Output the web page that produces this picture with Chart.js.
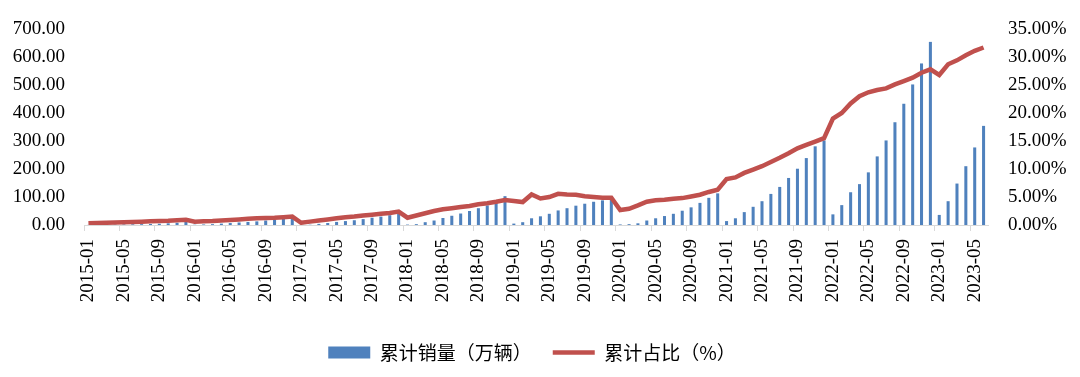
<!DOCTYPE html>
<html>
<head>
<meta charset="utf-8">
<script src="https://cdn.jsdelivr.net/npm/chart.js@4"></script>
<style>
  html, body { margin: 0; padding: 0; background: #fff; }
  #wrap { width: 1080px; height: 377px; position: relative; }
</style>
</head>
<body>
<div id="wrap"><canvas id="c"></canvas></div>
<script>
// months 2015-01 .. 2023-06
var years = [2015, 2016, 2017, 2018, 2019, 2020, 2021, 2022, 2023];
var months = [];
years.forEach(function (y) {
    for (var m = 1; m <= 12; m++) {
        if (y === 2023 && m > 6) break;
        months.push(y + '-' + (m < 10 ? '0' + m : m));
    }
});

// 累计销量（万辆）
var salesValues = [
    0.3, 0.6, 1, 1.5, 2, 2.5, 3, 3.5, 4.5, 6, 8, 11,
    1, 2, 3, 5, 7, 9, 11, 13, 16, 19, 22, 27,
    0.5, 1, 4, 7, 11, 14, 17, 21, 26, 30, 35, 40,
    1.5, 3, 10, 16, 25, 33, 41, 50, 60, 70, 79, 103,
    5, 10, 24, 31, 40, 52, 60, 69, 76, 83, 88, 97,
    2, 3, 6, 16, 24, 32, 40, 51, 63, 79, 97, 113,
    14, 24, 46, 65, 85, 111, 136, 168, 201, 239, 281, 302,
    38, 71, 117, 146, 188, 245, 302, 367, 433, 502, 577, 654,
    36, 85, 148, 210, 277, 354
];

// 累计占比（%）
var shareValues = [
    0.3, 0.35, 0.4, 0.45, 0.5, 0.55, 0.6, 0.65, 0.7, 0.75, 0.85, 0.95,
    0.6, 0.65, 0.7, 0.8, 0.9, 1.0, 1.1, 1.2, 1.25, 1.3, 1.4, 1.5,
    0.4, 0.6, 0.8, 1.0, 1.2, 1.4, 1.5, 1.7, 1.85, 2.0, 2.15, 2.4,
    1.3, 1.7, 2.1, 2.5, 2.8, 3.0, 3.2, 3.4, 3.7, 3.9, 4.15, 4.44,
    4.27, 4.1, 5.45, 4.74, 5.0, 5.56, 5.45, 5.4, 5.15, 5.0, 4.86, 4.86,
    2.67, 2.9, 3.5, 4.15, 4.4, 4.5, 4.7, 4.8, 5.1, 5.4, 5.9, 6.3,
    8.2, 8.5, 9.3, 9.9, 10.5, 11.25, 12.0, 12.8, 13.7, 14.3, 14.9, 15.5,
    19.0, 20.0, 21.7, 23.0, 23.7, 24.1, 24.4, 25.1, 25.7, 26.3, 27.2, 27.8,
    26.8, 28.7, 29.4, 30.3, 31.1, 31.7
];

var leftTicks = [0, 700, 100];
var rightTicks = [0, 35, 5];

var serif = '"Liberation Serif", "Times New Roman", serif';
var cjk = '"Noto Sans CJK SC", "Noto Sans", sans-serif';

// nudge legend a bit left and down, like the original
var legendShift = {
    id: 'legendShift',
    afterLayout: function (chart) {
        var lg = chart.legend;
        if (!lg) return;
        lg.left -= 8;
        lg.right -= 8;
        lg.top += 3;
        lg.bottom += 3;
    }
};

new Chart(document.getElementById('c').getContext('2d'), {
    data: {
        labels: months,
        datasets: [{
            type: 'bar',
            label: '累计销量（万辆）',
            data: salesValues,
            backgroundColor: '#4f81bd',
            borderWidth: 0,
            barPercentage: 0.38,
            categoryPercentage: 0.9,
            yAxisID: 'y',
            pointStyle: 'rect',
            order: 1
        }, {
            type: 'line',
            label: '累计占比（%）',
            data: shareValues,
            borderColor: '#c0504d',
            backgroundColor: '#c0504d',
            borderWidth: 4.5,
            pointRadius: 0,
            tension: 0,
            yAxisID: 'y1',
            pointStyle: 'line',
            order: 0
        }]
    },
    plugins: [legendShift],
    options: {
        responsive: true,
        maintainAspectRatio: false,
        animation: false,
        layout: { padding: { top: 29, bottom: 8, left: 0, right: 0 } },
        plugins: {
            tooltip: { enabled: false },
            legend: {
                position: 'bottom',
                labels: {
                    usePointStyle: true,
                    pointStyleWidth: 42,
                    boxHeight: 12,
                    padding: 21,
                    color: '#000',
                    font: { family: cjk, size: 19 },
                    // keep bar first
                    sort: function (a, b) { return a.datasetIndex - b.datasetIndex; }
                }
            }
        },
        scales: {
            x: {
                offset: true,
                border: { display: true, color: '#d9d9d9', width: 1 },
                grid: {
                    offset: true,
                    drawOnChartArea: false,
                    drawTicks: true,
                    tickLength: 6,
                    color: function (ctx) {
                        return ctx.index % 4 === 0 ? '#d9d9d9' : 'rgba(0,0,0,0)';
                    }
                },
                ticks: {
                    autoSkip: false,
                    minRotation: 90,
                    maxRotation: 90,
                    padding: 8,
                    color: '#000',
                    font: { family: serif, size: 19 },
                    callback: function (v, i) {
                        return i % 4 === 0 ? this.getLabelForValue(v) : '';
                    }
                },
                afterFit: function (s) { s.height = 94; }
            },
            y: {
                position: 'left',
                min: leftTicks[0],
                max: leftTicks[1],
                border: { display: false },
                grid: { display: false },
                ticks: {
                    stepSize: leftTicks[2],
                    padding: 11,
                    color: '#000',
                    font: { family: serif, size: 19 },
                    callback: function (v) { return v.toFixed(2); }
                },
                afterFit: function (s) { s.width = 84; }
            },
            y1: {
                position: 'right',
                min: rightTicks[0],
                max: rightTicks[1],
                border: { display: false },
                grid: { display: false },
                ticks: {
                    stepSize: rightTicks[2],
                    padding: 12,
                    color: '#000',
                    font: { family: serif, size: 19 },
                    callback: function (v) { return v.toFixed(2) + '%'; }
                },
                afterFit: function (s) { s.width = 92; }
            }
        }
    }
});
</script>
</body>
</html>
